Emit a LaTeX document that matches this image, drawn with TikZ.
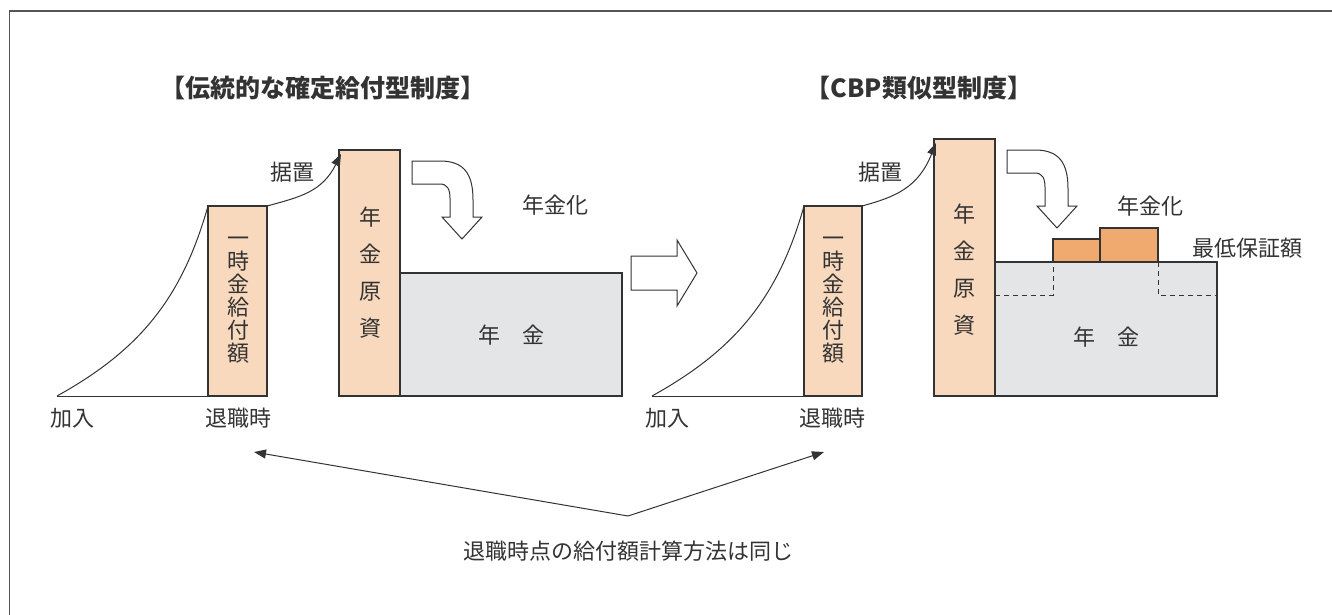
\documentclass[tikz,border=0pt]{standalone}
\usepackage{fontspec}
\setmainfont{Noto Sans CJK JP}
\usetikzlibrary{arrows.meta}
\definecolor{peach}{HTML}{F8D9BD}
\definecolor{pgray}{HTML}{E4E5E7}
\definecolor{orng}{HTML}{F0A96F}
\definecolor{ink}{HTML}{333333}
\definecolor{framec}{HTML}{555555}
\begin{document}
\begin{tikzpicture}[x=1pt,y=-1pt,
  bar/.style={draw=ink, line width=1.2pt, inner sep=0pt, outer sep=0pt, anchor=south west},
  lbl/.style={text=ink, font=\fontsize{22}{23}\selectfont, inner sep=0pt},
  vlbl/.style={lbl, align=center},
  ttl/.style={text=ink, font=\bfseries\fontsize{25}{28}\selectfont, inner sep=0pt},
  conn/.style={draw=ink, line width=1pt},
  tipend/.style={-{Triangle[length=12pt,width=9pt]}},
  blockarrow/.style={draw=ink, line width=1pt, fill=white, line join=miter},
  guide/.style={draw=ink, line width=1pt, dash pattern=on 5pt off 4pt},
]
\useasboundingbox (0,0) rectangle (1332,615);
\draw[framec, line width=1.5pt] (9.5,615) -- (9.5,11) -- (1332,11);

% titles
\node[ttl] (t1) at (323,88) {【伝統的な確定給付型制度】};
\node[ttl] (t2) at (919,88) {【CBP類似型制度】};

% ---------- left diagram ----------
\node[bar, fill=pgray, minimum width=222pt, minimum height=123pt] (g1) at (400,396) {};
\node[bar, fill=peach, minimum width=59pt, minimum height=190pt] (b1) at (208,396) {};
\node[bar, fill=peach, minimum width=61pt, minimum height=246pt] (b2) at (339,396) {};
\coordinate (s1) at (57,396);
\draw[conn] (s1) -- (b1.south west);
\draw[conn] (s1) .. controls (140,350) and (182,298) .. (b1.north west);
\draw[conn, tipend] (b1.north east) .. controls (300,197) and (322,192) .. (341,154);

\node[vlbl] (v1) at (238,300) {一\\時\\金\\給\\付\\額};
\node[lbl, align=center, font=\fontsize{22}{37}\selectfont] (v2) at (370,273) {年\\金\\原\\資};
\node[lbl] (n1) at (511,335) {年　金};
\node[lbl] (k1) at (292,172) {据置};
\node[lbl] (a1) at (555,205) {年金化};
\node[lbl] (j1) at (72,418) {加入};
\node[lbl] (r1) at (238,418) {退職時};

\draw[blockarrow] (412,161) -- (440,161) .. controls (465,161) and (473,175) .. (473,200)
  -- (473,217) -- (482,217) -- (462,239) -- (442,217) -- (450,217) -- (450,198)
  .. controls (450,189) and (447,184) .. (440,184) -- (412,184) -- cycle;

% middle arrow
\draw[blockarrow] (631,256) -- (677,256) -- (677,240) -- (697,273) -- (677,306) -- (677,290) -- (631,290) -- cycle;

% ---------- right diagram ----------
\node[bar, fill=pgray, minimum width=222pt, minimum height=134pt] (g2) at (995,396) {};
\node[bar, fill=orng, minimum width=47pt, minimum height=23pt] (o1) at (1053,262) {};
\node[bar, fill=orng, minimum width=58pt, minimum height=34pt] (o2) at (1100,262) {};
\node[bar, fill=peach, minimum width=58pt, minimum height=190pt] (b3) at (804,396) {};
\node[bar, fill=peach, minimum width=61pt, minimum height=257pt] (b4) at (934,396) {};
\draw[guide] (b4.east |- 0,295) -- (o1.south west |- 0,295) -- (o1.south west);
\draw[guide] (o2.south east) -- (o2.south east |- 0,295) -- (g2.east |- 0,295);
\coordinate (s2) at (652,396);
\draw[conn] (s2) -- (b3.south west);
\draw[conn] (s2) .. controls (735,350) and (778,298) .. (b3.north west);
\draw[conn, tipend] (b3.north east) .. controls (895,197) and (918,188) .. (936,143);

\node[vlbl] (v3) at (833,300) {一\\時\\金\\給\\付\\額};
\node[lbl, align=center, font=\fontsize{22}{37}\selectfont] (v4) at (964,270) {年\\金\\原\\資};
\node[lbl] (n2) at (1106,337) {年　金};
\node[lbl] (k2) at (880,172) {据置};
\node[lbl] (a2) at (1150,206) {年金化};
\node[lbl] (m2) at (1247,248) {最低保証額};
\node[lbl] (j2) at (667,418) {加入};
\node[lbl] (r2) at (832,418) {退職時};

\draw[blockarrow] (1007,150) -- (1035,150) .. controls (1060,150) and (1068,164) .. (1068,189)
  -- (1068,206) -- (1077,206) -- (1057,228) -- (1037,206) -- (1045,206) -- (1045,187)
  .. controls (1045,178) and (1042,173) .. (1035,173) -- (1007,173) -- cycle;

% bottom
\coordinate (m) at (628,516);
\node[lbl] (bt) at (628,551) {退職時点の給付額計算方法は同じ};
\draw[conn, tipend] (m) -- (254,452);
\draw[conn, tipend] (m) -- (824,452);
\end{tikzpicture}
\end{document}
